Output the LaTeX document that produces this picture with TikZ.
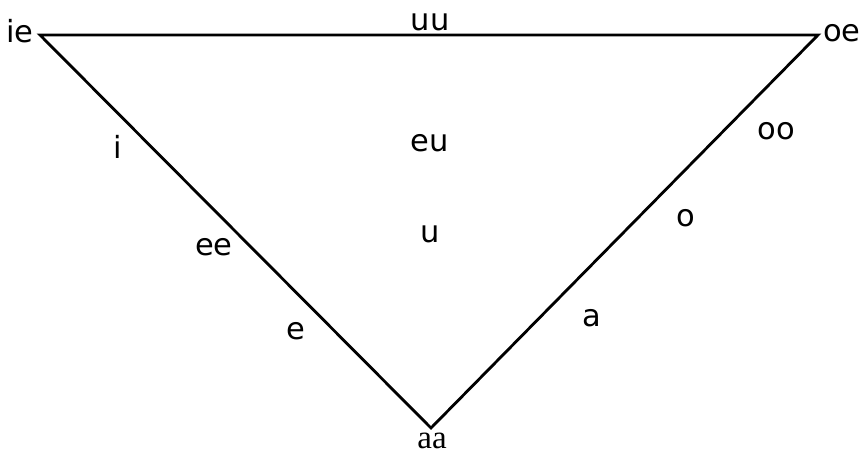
\documentclass[tikz,border=0pt]{standalone}
\usepackage{fontspec}
\setmainfont{DejaVu Sans}
\newfontfamily\serifaa{Liberation Serif}
\begin{document}
\begin{tikzpicture}[x=1pt,y=-1pt,
  lbl/.style={inner sep=0pt,anchor=base,font=\fontsize{30.5}{33}\selectfont},
  edge/.style={line width=2.8pt,line join=miter}]
\useasboundingbox (0,0) rectangle (865,455);
\coordinate (ie) at (40,35);
\coordinate (oe) at (818,35);
\coordinate (aa) at (431,428);
\draw[edge] (ie) -- (oe) -- (aa) -- cycle;
\node[lbl] (tie) at (20,42) {ie};
\node[lbl] (toe) at (842,41) {oe};
\node[lbl] (tuu) at (430,30) {uu};
\node[lbl,font=\serifaa\fontsize{33}{36}\selectfont] (taa) at (432,448.5) {aa};
\node[lbl] (ti) at (118,158) {i};
\node[lbl] (teu) at (430,151) {eu};
\node[lbl] (too) at (776,139) {oo};
\node[lbl] (tee) at (214,255) {ee};
\node[lbl] (tu) at (430,242) {u};
\node[lbl] (to) at (686,226) {o};
\node[lbl] (te) at (296,339) {e};
\node[lbl] (ta) at (592,326) {a};
\end{tikzpicture}
\end{document}
